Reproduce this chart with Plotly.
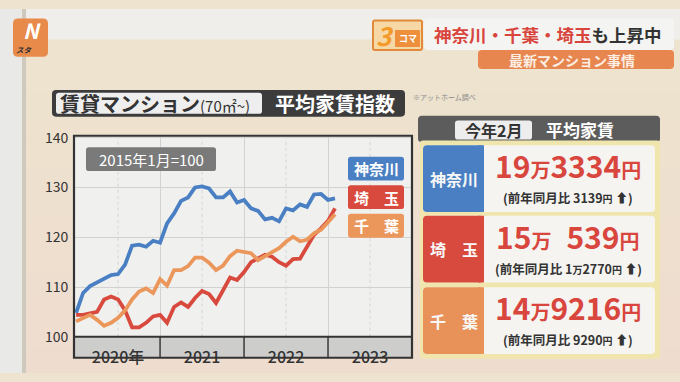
import plotly.graph_objects as go

# ---------------- data ----------------
months = list(range(38))  # Jan 2020 .. Feb 2023
kanagawa = [104.8, 108.8, 110.2, 110.9, 111.8, 112.4, 112.6, 114.5, 118.3, 118.5,
            118.1, 119.3, 118.9, 122.8, 124.8, 127.3, 128.0, 130.0, 130.2, 129.8,
            128.0, 128.0, 129.2, 127.0, 127.5, 125.8, 125.3, 123.6, 123.9, 123.2,
            125.8, 125.4, 126.6, 126.1, 128.6, 128.7, 127.5, 127.8]
saitama = [104.4, 104.4, 104.7, 105.0, 107.5, 108.1, 107.5, 105.3, 101.9, 101.9,
           102.8, 104.1, 104.4, 102.8, 106.0, 106.9, 106.0, 107.8, 109.2, 108.6,
           106.8, 109.3, 111.9, 111.4, 113.0, 115.0, 115.7, 116.5, 116.1, 115.0,
           114.3, 115.6, 115.7, 118.0, 120.5, 121.8, 123.3, 125.8]
chiba = [103.1, 103.8, 104.4, 103.4, 102.2, 102.8, 103.8, 105.3, 107.5, 109.1,
         109.7, 108.8, 111.6, 110.3, 113.4, 113.4, 114.2, 115.9, 115.9, 114.9,
         113.4, 114.3, 116.2, 117.3, 117.0, 116.8, 115.4, 116.2, 116.8, 117.8,
         119.1, 120.1, 119.2, 119.5, 120.8, 121.5, 123.0, 124.6]
series_names = ["神奈川", "埼玉", "千葉"]
year_ticks = [6, 18, 30, 42]
year_labels = ["2020年", "2021", "2022", "2023"]
y_ticks = [100, 110, 120, 130, 140]

rent_main = ['19<span style="font-size:20px">万</span>3334<span style="font-size:20px">円</span>',
             '15<span style="font-size:20px">万</span>\u2002539<span style="font-size:20px">円</span>',
             '14<span style="font-size:20px">万</span>9216<span style="font-size:20px">円</span>']
rent_sub = ['(前年同月比 3139<span style="font-size:10px">円</span> ⬆)',
            '(前年同月比 1<span style="font-size:10px">万</span>2770<span style="font-size:10px">円</span> ⬆)',
            '(前年同月比 9290<span style="font-size:10px">円</span> ⬆)']
row_labels = ["神奈川", "埼\u3000玉", "千\u3000葉"]

# ---------------- styling ----------------
W, H = 680, 382
FONT = "Noto Sans CJK JP"
BLUE, RED, ORANGE = "#4a80c3", "#d94a3e", "#eb975c"


def px(x):
    return x / W


def py(y):
    return 1 - y / H


def rrect(x0, y0, x1, y1, r):
    p = lambda x, y: f"{px(x):.5f},{py(y):.5f}"
    return (f"M{p(x0 + r, y0)} L{p(x1 - r, y0)} Q{p(x1, y0)} {p(x1, y0 + r)} "
            f"L{p(x1, y1 - r)} Q{p(x1, y1)} {p(x1 - r, y1)} L{p(x0 + r, y1)} "
            f"Q{p(x0, y1)} {p(x0, y1 - r)} L{p(x0, y0 + r)} Q{p(x0, y0)} {p(x0 + r, y0)} Z")


shapes = []
annos = []


def box(x0, y0, x1, y1, fill, r=0, line=None, lw=0, layer="below"):
    shapes.append(dict(type="path", xref="paper", yref="paper", path=rrect(x0, y0, x1, y1, r),
                       fillcolor=fill, layer=layer, line=dict(width=lw, color=line or fill)))


def text(x, y, t, size, color, bold=True, xanchor="center", yanchor="middle"):
    annos.append(dict(x=px(x), y=py(y), xref="paper", yref="paper", text=t, showarrow=False,
                      xanchor=xanchor, yanchor=yanchor,
                      font=dict(family=FONT, size=size, color=color,
                                weight="bold" if bold else "normal")))


# background gradient (cream -> pinkish)
for k in range(12):
    y0 = 60 + k * 27
    shapes.append(dict(type="rect", xref="paper", yref="paper", x0=0, x1=1,
                       y0=py(min(y0 + 27, H)), y1=py(y0), fillcolor="#f0d5cf",
                       opacity=0.04 * k, line=dict(width=0), layer="below"))
# top strip and left strip
shapes.append(dict(type="rect", xref="paper", yref="paper", x0=0, x1=1, y0=py(32), y1=1,
                   fillcolor="#efeeea", line=dict(width=0), layer="below"))
shapes.append(dict(type="rect", xref="paper", yref="paper", x0=0, x1=px(22), y0=0, y1=1,
                   fillcolor="#e9e9e7", line=dict(width=0), layer="below"))
shapes.append(dict(type="rect", xref="paper", yref="paper", x0=px(22), x1=px(26), y0=0, y1=1,
                   fillcolor="#cfc8bc", line=dict(width=0), layer="below"))

# logo
box(13, 10, 48, 50, "#e88a4a", r=5)
text(32, 22, "<i>N</i>", 21, "white")
text(24, 42.5, "<i>スタ</i>", 7.5, "#333333")

# top-right header
box(373, 12, 422, 43, "#f6d7a6", r=2, line="#e08a3a", lw=2)
box(395, 22, 420, 40, "#ee8f3c", r=1)
text(385, 27, "<i>3</i>", 26, "#f39a2b")
text(407.5, 31, "コマ", 9, "white")
box(424, 10, 674, 43, "#f4f4f2", r=4)
text(432, 27, '神奈川・千葉・埼玉<span style="color:#333333">も上昇中</span>', 17.5, "#d9453c",
     xanchor="left")
box(478, 43, 674, 63, "#e8864f", r=4)
text(572, 53, "最新マンション事情", 14, "#fbeee4")

# title bar
box(52, 85, 405, 113, "#3c3c3c", r=4)
box(56, 88, 262, 110, "#eeeeee", r=3)
text(58, 99.5, '賃貸マンション<span style="font-size:15px;font-weight:normal">(70㎡~)</span>', 20,
     "#333333", xanchor="left")
text(335, 99.5, "平均家賃指数", 20, "white")
text(411, 92, "※アットホーム調べ", 7, "#8a8a8a", bold=False, xanchor="left")

# chart area background & year band
box(74, 133, 412, 344, "#f0f0ee")
box(74, 344, 412, 366, "#cdcdcc")

# annotation box + legend boxes (above)
box(86, 145, 216, 170, "#7a7a7a", r=3, layer="above")
text(151, 157.5, "2015年1月=100", 15, "white", bold=False)
for (yy, col, lab) in [(155, BLUE, "神奈川"), (185, RED, "埼\u3000玉"), (215, ORANGE, "千\u3000葉")]:
    box(348, yy, 404, yy + 25, col, r=3, layer="above")
    text(376, yy + 12.5, lab, 15, "white")

# right panel
box(418, 112, 660, 140, "#5c5c5c", r=4)
box(455, 117, 532, 137, "#ededed", r=3)
text(493.5, 127, "今年2月", 16, "#333333")
text(580, 126, "平均家賃", 17, "white")
box(420, 138, 660, 367, "#f1e5ae", r=3)
rows = [(143, BLUE), (217, RED), (292, "#e8925a")]
for i, (y0, col) in enumerate(rows):
    box(423, y0, 655, y0 + 70, "#f5f4f1", r=4)
    box(423, y0, 484, y0 + 70, col, r=4)
    shapes.append(dict(type="rect", xref="paper", yref="paper", x0=px(478), x1=px(484),
                       y0=py(y0 + 70), y1=py(y0), fillcolor=col, line=dict(width=0),
                       layer="below"))
    text(453.5, y0 + 35, row_labels[i], 16, "#f8f8f8")
    text(568, y0 + 21, rent_main[i], 30, "#d8463d")
    text(568, y0 + 55, rent_sub[i], 12.5, "#333333")

fig = go.Figure()
for name, vals, col in [("神奈川", kanagawa, BLUE), ("埼玉", saitama, RED), ("千葉", chiba, ORANGE)]:
    fig.add_trace(go.Scatter(x=months, y=vals, mode="lines", name=name,
                             line=dict(color=col, width=3.8, shape="linear"),
                             showlegend=False, hoverinfo="skip"))

# mid-year dotted grid lines
for xv in year_ticks:
    shapes.append(dict(type="line", xref="x", yref="y", x0=xv, x1=xv, y0=100, y1=140,
                       line=dict(color="#d4d4d2", width=1, dash="dot"), layer="below"))
# year-band separators
for xv in [12, 24, 36]:
    shapes.append(dict(type="line", xref="x", yref="paper", x0=xv, x1=xv, y0=py(366), y1=py(344),
                       line=dict(color="#3a3a3a", width=1.5), layer="above"))
# frame
shapes.append(dict(type="rect", xref="paper", yref="paper", x0=px(74), x1=px(412),
                   y0=py(366), y1=py(133), line=dict(color="#333333", width=2.2),
                   fillcolor="rgba(0,0,0,0)", layer="above"))
shapes.append(dict(type="line", xref="paper", yref="paper", x0=px(74), x1=px(412),
                   y0=py(344), y1=py(344), line=dict(color="#333333", width=2), layer="above"))

fig.update_layout(
    width=W, height=H, margin=dict(l=0, r=0, t=0, b=0),
    paper_bgcolor="#eee3cf", plot_bgcolor="rgba(0,0,0,0)",
    shapes=shapes, annotations=annos,
    xaxis=dict(domain=[px(74), px(412)], range=[-0.3, 48], showgrid=True,
               tickvals=[12, 24, 36], ticktext=["", "", ""],
               gridcolor="#d2d2d0", gridwidth=1, zeroline=False, showline=False,
               ticks="", fixedrange=True),
    xaxis2=dict(domain=[px(74), px(412)], range=[-0.3, 48], overlaying="x", anchor="y",
                tickvals=year_ticks, ticktext=year_labels, showgrid=False, zeroline=False,
                ticks="outside", ticklen=6, tickcolor="rgba(0,0,0,0)",
                tickfont=dict(family=FONT, size=16, color="#333333", weight=500)),
    yaxis=dict(domain=[py(344), py(133)], range=[100, 140.4], tickvals=y_ticks,
               showgrid=True, gridcolor="#d2d2d0", gridwidth=1, zeroline=False,
               showline=False, ticks="outside", ticklen=2, tickcolor="rgba(0,0,0,0)",
               tickfont=dict(family=FONT, size=14, color="#333333")),
)
# dummy trace to activate xaxis2 tick labels
fig.add_trace(go.Scatter(x=[0], y=[None], xaxis="x2", yaxis="y", showlegend=False,
                         hoverinfo="skip"))
fig.write_html("out.html", config={"displayModeBar": False},
               post_script="document.body.style.margin='0';")
